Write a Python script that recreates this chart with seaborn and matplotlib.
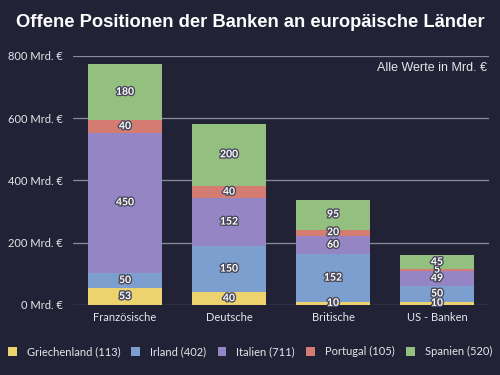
import matplotlib
matplotlib.use("Agg")
import matplotlib.pyplot as plt
import matplotlib.patheffects as pe
from matplotlib.patches import Patch
import numpy as np
import pandas as pd
import seaborn as sns

banks = ["Französische", "Deutsche", "Britische", "US - Banken"]
griechenland = [53, 40, 10, 10]
irland = [50, 150, 152, 50]
italien = [450, 152, 60, 49]
portugal = [40, 40, 20, 5]
spanien = [180, 200, 95, 45]
legend_labels = ["Griechenland (113)", "Irland (402)", "Italien (711)",
                 "Portugal (105)", "Spanien (520)"]
yticks = [0, 200, 400, 600, 800]

colors = ["#ecd36e", "#7d9fcf", "#9585c4", "#d47b72", "#94c07f"]
bg = "#222236"
fg = "#e6e6ea"

layers = [griechenland, irland, italien, portugal, spanien]
df = pd.DataFrame({"bank": banks})
for i, vals in enumerate(layers):
    df["l" + str(i)] = vals
cum = df[["l0", "l1", "l2", "l3", "l4"]].cumsum(axis=1)

sns.set_style("white")
plt.rcParams["font.family"] = ["Lato", "DejaVu Sans"]

fig = plt.figure(figsize=(5, 3.75), dpi=100, facecolor=bg)
ax = fig.add_axes([0.146, 0.187, 0.832, 0.664])
ax.set_facecolor(bg)

# stacked bars: draw the cumulative totals from the top down
for i in range(4, -1, -1):
    sns.barplot(x=df["bank"], y=cum.iloc[:, i], color=colors[i],
                width=0.71, saturation=1, ax=ax, zorder=2,
                edgecolor="none", linewidth=0)

ax.set_ylim(0, 800)
ax.set_xlim(-0.5, 3.5)
ax.set_yticks(yticks)
ax.set_yticklabels([str(v) + " Mrd. €" for v in yticks])
for v in yticks:
    ax.axhline(v, color="#8a8a98", linewidth=0.9, zorder=1)
sns.despine(ax=ax, left=True, bottom=True, top=True, right=True)
ax.tick_params(axis="both", colors=fg, labelsize=8, length=0)
ax.tick_params(axis="y", pad=7)
ax.tick_params(axis="x", pad=5)
ax.set_xlabel("")
ax.set_ylabel("")

# segment labels
stroke = [pe.withStroke(linewidth=2, foreground="#4a4a5c")]
for j in range(len(banks)):
    bottom = 0
    for i, vals in enumerate(layers):
        v = vals[j]
        ax.text(j, bottom + v / 2, str(v), ha="center", va="center",
                color="white", fontsize=7.5, fontweight="bold",
                path_effects=stroke, zorder=5)
        bottom += v

ax.text(0.995, 0.952, "Alle Werte in Mrd. €", transform=ax.transAxes,
        ha="right", va="center", color=fg, fontsize=9,
        family=["Liberation Sans", "DejaVu Sans"])

fig.text(0.5, 0.94, "Offene Positionen der Banken an europäische Länder",
         ha="center", va="center", color="white", fontsize=13.2,
         fontweight="bold", family=["Liberation Sans", "DejaVu Sans"])

handles = [Patch(facecolor=c, edgecolor="none") for c in colors]
fig.legend(handles, legend_labels, loc="center", ncol=5,
           bbox_to_anchor=(0.5, 0.062), frameon=False, fontsize=8,
           labelcolor=fg, handlelength=0.8, handleheight=0.8,
           handletextpad=0.9, columnspacing=1.0)

fig.savefig("out.png", dpi=100, facecolor=bg)
